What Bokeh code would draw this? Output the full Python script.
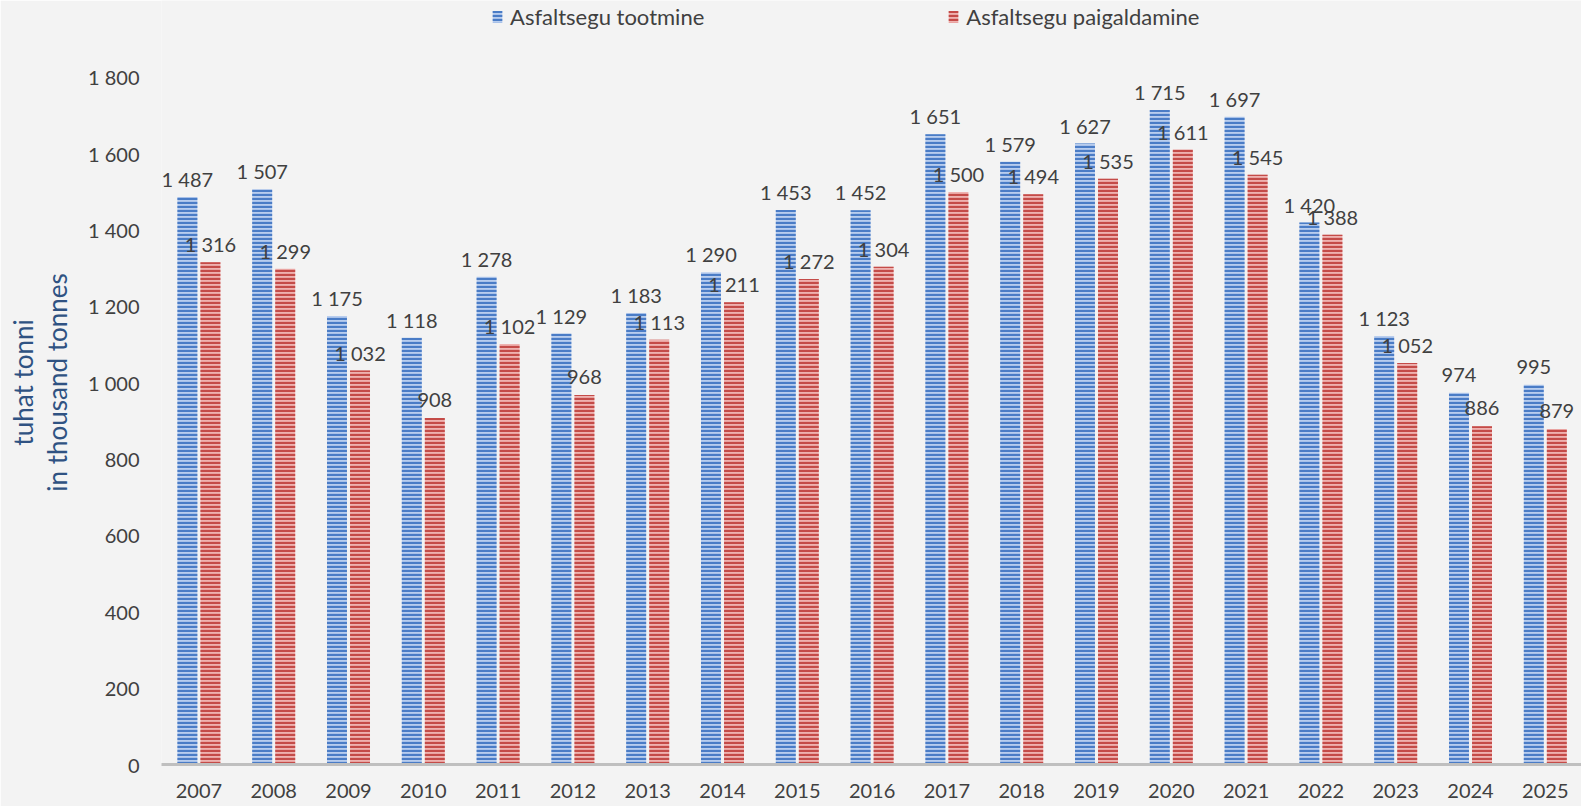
from bokeh.plotting import figure
from bokeh.models import ColumnDataSource, Range1d, FixedTicker, Legend, LegendItem
from bokeh.transform import dodge
from bokeh.embed import file_html
from bokeh.resources import INLINE

years = ["2007", "2008", "2009", "2010", "2011", "2012", "2013", "2014", "2015", "2016",
         "2017", "2018", "2019", "2020", "2021", "2022", "2023", "2024", "2025"]
tootmine = [1487, 1507, 1175, 1118, 1278, 1129, 1183, 1290, 1453, 1452,
            1651, 1579, 1627, 1715, 1697, 1420, 1123, 974, 995]
paigaldamine = [1316, 1299, 1032, 908, 1102, 968, 1113, 1211, 1272, 1304,
                1500, 1494, 1535, 1611, 1545, 1388, 1052, 886, 879]
y_ticks = [0, 200, 400, 600, 800, 1000, 1200, 1400, 1600, 1800]
y_tick_labels = ["0", "200", "400", "600", "800", "1 000", "1 200", "1 400", "1 600", "1 800"]

FONT = "Lato"
TXT = "#404040"
BG = "#f3f3f3"


def fmt(v):
    return f"{v:,}".replace(",", " ")


src = ColumnDataSource(dict(
    x=list(range(len(years))),
    a=tootmine, b=paigaldamine,
    la=[fmt(v) for v in tootmine], lb=[fmt(v) for v in paigaldamine],
))

p = figure(width=1581, height=806, output_backend="svg", toolbar_location=None,
           x_range=Range1d(-0.5, 18.484), y_range=Range1d(0, 2001.7),
           min_border_left=161, min_border_right=0, min_border_top=0, min_border_bottom=42)
p.background_fill_color = BG
p.border_fill_color = BG
p.outline_line_color = None
p.xgrid.visible = False
p.ygrid.visible = False

bw = 0.267
off = 0.154
r1 = p.vbar(x=dodge("x", -off), top="a", width=bw, source=src,
            fill_color="#b8cdee", hatch_pattern="horizontal_line", hatch_color="#4a7cc6",
            hatch_scale=4, hatch_weight=2.3, line_color=None)
r2 = p.vbar(x=dodge("x", off), top="b", width=bw, source=src,
            fill_color="#eeb2b0", hatch_pattern="horizontal_line", hatch_color="#c44b48",
            hatch_scale=4, hatch_weight=2.3, line_color=None)

for col, lab, sgn in (("a", "la", -1), ("b", "lb", 1)):
    p.text(x=dodge("x", sgn * off), y=col, text=lab, source=src,
           text_align="center", text_baseline="alphabetic", y_offset=-18,
           text_font_size="20px", text_color=TXT, text_font={"value": FONT})

# axes
p.yaxis.ticker = FixedTicker(ticks=y_ticks)
p.yaxis.major_label_overrides = {t: l for t, l in zip(y_ticks, y_tick_labels)}
p.yaxis.axis_line_color = None
p.yaxis.major_tick_line_color = None
p.yaxis.minor_tick_line_color = None
p.yaxis.major_tick_out = 0
p.yaxis.major_label_standoff = 22
p.yaxis.major_label_text_font = FONT
p.yaxis.major_label_text_font_size = "20px"
p.yaxis.major_label_text_color = TXT
p.yaxis.axis_label = "tuhat tonni\nin thousand tonnes"
p.yaxis.axis_label_text_font = FONT
p.yaxis.axis_label_text_font_size = "26px"
p.yaxis.axis_label_text_font_style = "normal"
p.yaxis.axis_label_text_line_height = 1.05
p.yaxis.axis_label_text_color = "#2f5282"
p.yaxis.axis_label_standoff = 12

p.xaxis.ticker = FixedTicker(ticks=list(range(len(years))))
p.xaxis.major_label_overrides = {i: y for i, y in enumerate(years)}
p.xaxis.axis_line_color = "#bfbfbf"
p.xaxis.axis_line_width = 3
p.xaxis.major_tick_line_color = None
p.xaxis.minor_tick_line_color = None
p.xaxis.major_tick_out = 0
p.xaxis.major_label_standoff = 19
p.xaxis.major_label_text_font = FONT
p.xaxis.major_label_text_font_size = "20px"
p.xaxis.major_label_text_color = TXT

legend = Legend(items=[LegendItem(label="Asfaltsegu tootmine", renderers=[r1]),
                       LegendItem(label="Asfaltsegu paigaldamine", renderers=[r2])],
                orientation="horizontal", location=(330, 734),
                padding=0, margin=0, spacing=243, border_line_color=None,
                background_fill_alpha=0, glyph_width=12, glyph_height=15,
                label_standoff=7, label_text_font=FONT, label_text_font_size="22px",
                label_text_color=TXT, label_height=24)
p.add_layout(legend, "center")

open("out.html", "w").write(file_html(p, INLINE))
